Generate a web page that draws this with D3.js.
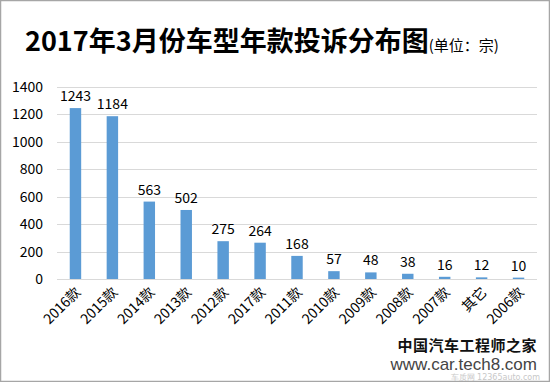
<!DOCTYPE html>
<html><head><meta charset="utf-8">
<script src="https://cdn.jsdelivr.net/npm/d3@7"></script>
<style>
html,body{margin:0;padding:0;background:#fff;}
svg{display:block;}
</style></head>
<body>
<script>
const categories = ["2016款","2015款","2014款","2013款","2012款","2017款","2011款","2010款","2009款","2008款","2007款","其它","2006款"];
const values = [1243,1184,563,502,275,264,168,57,48,38,16,12,10];
const yTicks = [0,200,400,600,800,1000,1200,1400];
const titleText = "2017年3月份车型年款投诉分布图";
const unitText = "(单位：宗)";

const W = 550, H = 382;
const svg = d3.select("body").append("svg").attr("width", W).attr("height", H);
svg.append("rect").attr("x",0.5).attr("y",0.5).attr("width",W-1).attr("height",H-1)
  .attr("fill","#fff").attr("stroke","#a6a6a6").attr("stroke-width",1.5);

const font = "'Noto Sans CJK SC','Microsoft YaHei',sans-serif";
const x = d3.scaleBand().domain(categories).range([57, 537]).paddingInner(0.69).paddingOuter(0.345);
const y = d3.scaleLinear().domain([0,1400]).range([279, 86.5]);

// gridlines
svg.append("g").selectAll("line").data(yTicks).join("line")
  .attr("x1",57).attr("x2",537)
  .attr("y1",d=>Math.round(y(d))+0.5).attr("y2",d=>Math.round(y(d))+0.5)
  .attr("stroke","#d9d9d9").attr("stroke-width",1);

// y axis labels
const yAxis = d3.axisLeft(y).tickValues(yTicks).tickFormat(d3.format("d")).tickSize(0).tickPadding(0);
const gy = svg.append("g").attr("transform","translate(43,0)").call(yAxis);
gy.select(".domain").remove();
gy.selectAll("text").attr("font-family",font).attr("font-size",14).attr("fill","#000").attr("dy","0.35em");

// bars
svg.append("g").selectAll("rect").data(values).join("rect")
  .attr("x",(d,i)=>x(categories[i]))
  .attr("width",x.bandwidth())
  .attr("y",d=>y(d))
  .attr("height",d=>y(0)-y(d))
  .attr("fill","#5b9bd5");

// value labels
svg.append("g").selectAll("text").data(values).join("text")
  .attr("x",(d,i)=>x(categories[i])+x.bandwidth()/2)
  .attr("y",d=>y(d)-7)
  .attr("text-anchor","middle")
  .attr("font-family",font).attr("font-size",14).attr("fill","#000")
  .text(d=>d);

// x axis labels
const xAxis = d3.axisBottom(x).tickSize(0).tickPadding(0);
const gx = svg.append("g").attr("transform","translate(0,279)").call(xAxis);
gx.select(".domain").remove();
gx.selectAll("text")
  .attr("font-family",font).attr("font-size",14).attr("fill","#000")
  .attr("text-anchor","end").attr("dy",0).attr("y",0)
  .attr("transform","translate(6,14) rotate(-45)");

// title
const t = svg.append("text").attr("x",25).attr("y",51).attr("font-family",font).attr("fill","#000");
t.append("tspan").attr("font-size",27).attr("font-weight","bold").text(titleText);
t.append("tspan").attr("font-size",15).attr("dx",0).text(unitText);

// watermark
svg.append("text").attr("x",537).attr("y",351).attr("text-anchor","end")
  .attr("font-family","'Noto Sans CJK SC',serif").attr("font-weight","bold").attr("font-size",15)
  .attr("letter-spacing",0.5).attr("fill","#111").text("中国汽车工程师之家");
svg.append("text").attr("x",537).attr("y",370).attr("text-anchor","end")
  .attr("font-family","'Liberation Sans',sans-serif").attr("font-size",17).attr("fill","#444").text("www.car.tech8.com");
svg.append("text").attr("x",540).attr("y",380).attr("text-anchor","end")
  .attr("font-family","'DejaVu Sans',sans-serif").attr("font-size",8).attr("fill","#c8c8c8").text("车质网 12365auto.com");
</script>
</body></html>
